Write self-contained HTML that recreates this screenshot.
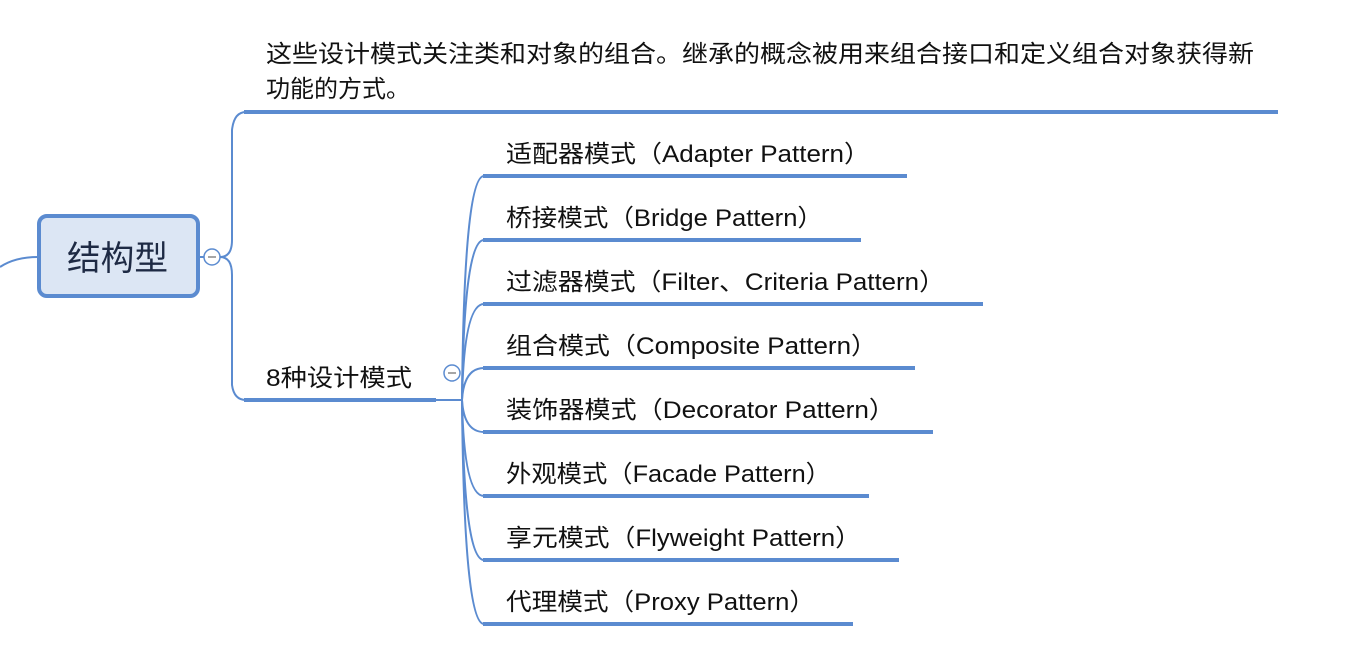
<!DOCTYPE html>
<html><head><meta charset="utf-8"><style>
body{margin:0;background:#fff;}
svg text{font-family:"Liberation Sans","Microsoft YaHei","Noto Sans CJK SC",sans-serif;}
</style></head><body>
<svg width="1349" height="666" xmlns="http://www.w3.org/2000/svg">
<g fill="none" stroke="#5b8bd0">
<path d="M0 267 Q15 257 38 257" stroke-width="2"/>
<path d="M200 257 L220 257 Q232 257 232 240 L232 130 Q234 112 246 112" stroke-width="2"/>
<path d="M220 257 Q232 257 232 275 L232 385 Q234 400 246 400" stroke-width="2"/>
<line x1="244" y1="112" x2="1278" y2="112" stroke-width="4"/>
<line x1="244" y1="400" x2="436" y2="400" stroke-width="4"/>
<line x1="436" y1="400" x2="462" y2="400" stroke-width="2"/>
<path d="M462 400 Q464 176 484 176" stroke-width="2"/>
<path d="M462 400 Q464 240 484 240" stroke-width="2"/>
<path d="M462 400 Q464 304 484 304" stroke-width="2"/>
<path d="M462 400 Q464 368 484 368" stroke-width="2"/>
<path d="M462 400 Q464 432 484 432" stroke-width="2"/>
<path d="M462 400 Q464 496 484 496" stroke-width="2"/>
<path d="M462 400 Q464 560 484 560" stroke-width="2"/>
<path d="M462 400 Q464 624 484 624" stroke-width="2"/>
<g stroke-width="4">
<line x1="483" y1="176" x2="907" y2="176"/>
<line x1="483" y1="240" x2="861" y2="240"/>
<line x1="483" y1="304" x2="983" y2="304"/>
<line x1="483" y1="368" x2="915" y2="368"/>
<line x1="483" y1="432" x2="933" y2="432"/>
<line x1="483" y1="496" x2="869" y2="496"/>
<line x1="483" y1="560" x2="899" y2="560"/>
<line x1="483" y1="624" x2="853" y2="624"/>
</g>
<rect x="39" y="216" width="159" height="80" rx="8" fill="#dce6f4" stroke-width="4"/>
<circle cx="212" cy="257" r="8" fill="#fff" stroke-width="1.5"/>
<circle cx="452" cy="373" r="8" fill="#fff" stroke-width="1.5"/>
</g>
<line x1="208" y1="257" x2="216" y2="257" stroke="#888" stroke-width="1.5"/>
<line x1="448" y1="373" x2="456" y2="373" stroke="#888" stroke-width="1.5"/>
<text x="67" y="270" font-size="34" textLength="101" lengthAdjust="spacingAndGlyphs" fill="#1e2a44">结构型</text>
<g font-size="24" fill="#111" lengthAdjust="spacingAndGlyphs">
<text x="266" y="62" textLength="988" lengthAdjust="spacingAndGlyphs">这些设计模式关注类和对象的组合。继承的概念被用来组合接口和定义组合对象获得新</text>
<text x="266" y="97" textLength="144" lengthAdjust="spacingAndGlyphs">功能的方式。</text>
<text x="266" y="386" textLength="146" lengthAdjust="spacingAndGlyphs">8种设计模式</text>
<text x="506" y="162" textLength="364" lengthAdjust="spacingAndGlyphs">适配器模式（Adapter Pattern）</text>
<text x="506" y="226" textLength="317" lengthAdjust="spacingAndGlyphs">桥接模式（Bridge Pattern）</text>
<text x="506" y="290" textLength="439" lengthAdjust="spacingAndGlyphs">过滤器模式（Filter、Criteria Pattern）</text>
<text x="506" y="354" textLength="371" lengthAdjust="spacingAndGlyphs">组合模式（Composite Pattern）</text>
<text x="506" y="418" textLength="389" lengthAdjust="spacingAndGlyphs">装饰器模式（Decorator Pattern）</text>
<text x="506" y="482" textLength="325" lengthAdjust="spacingAndGlyphs">外观模式（Facade Pattern）</text>
<text x="506" y="546" textLength="355" lengthAdjust="spacingAndGlyphs">享元模式（Flyweight Pattern）</text>
<text x="506" y="610" textLength="309" lengthAdjust="spacingAndGlyphs">代理模式（Proxy Pattern）</text>
</g>
</svg>
</body></html>
